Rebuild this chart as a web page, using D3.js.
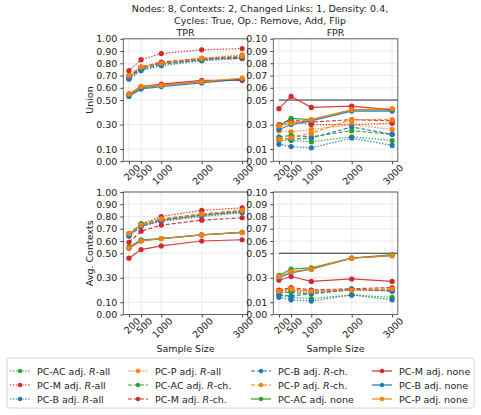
<!DOCTYPE html>
<html><head><meta charset="utf-8">
<script src="https://cdn.jsdelivr.net/npm/d3@7"></script>
<style>body{margin:0;background:#fff;font-family:"DejaVu Sans",sans-serif;}</style>
</head><body><svg id="c" width="481" height="415"></svg>
<script>
// sample sizes on the x axis
const sampleSizes = [200, 500, 1000, 2000, 3000];

// series: method, adjustment, colour, dash
const seriesNames = ["PC-AC adj. R-all","PC-M adj. R-all","PC-B adj. R-all","PC-P adj. R-all",
  "PC-AC adj. R-ch.","PC-M adj. R-ch.","PC-B adj. R-ch.","PC-P adj. R-ch.",
  "PC-AC adj. none","PC-M adj. none","PC-B adj. none","PC-P adj. none"];
const seriesColors = ["#2ca02c","#d62728","#1f77b4","#ff7f0e","#2ca02c","#d62728","#1f77b4","#ff7f0e","#2ca02c","#d62728","#1f77b4","#ff7f0e"];
const seriesDash = ["1.5,1.5","1.5,1.5","1.5,1.5","1.5,1.5","4,2","4,2","4,2","4,2",null,null,null,null];

const unionTPR = [
  [0.68,0.76,0.80,0.83,0.85],[0.74,0.83,0.88,0.91,0.92],[0.67,0.74,0.78,0.82,0.84],[0.70,0.77,0.80,0.84,0.87],
  [0.69,0.76,0.80,0.83,0.86],[0.69,0.77,0.81,0.84,0.84],[0.68,0.75,0.79,0.83,0.85],[0.70,0.77,0.80,0.84,0.86],
  [0.54,0.60,0.62,0.65,0.67],[0.55,0.61,0.63,0.66,0.66],[0.53,0.59,0.61,0.64,0.67],[0.55,0.61,0.62,0.65,0.68]];
const unionFPR = [
  [0.017,0.017,0.016,0.020,0.017],[0.029,0.033,0.030,0.030,0.031],[0.014,0.012,0.011,0.019,0.013],[0.025,0.024,0.026,0.030,0.026],
  [0.020,0.021,0.020,0.025,0.022],[0.030,0.034,0.032,0.034,0.033],[0.019,0.018,0.019,0.028,0.022],[0.018,0.019,0.023,0.034,0.034],
  [0.029,0.035,0.034,0.042,0.042],[0.043,0.053,0.044,0.045,0.042],[0.026,0.030,0.033,0.041,0.041],[0.029,0.031,0.034,0.042,0.043]];
const ctxTPR = [
  [0.65,0.73,0.77,0.81,0.84],[0.65,0.74,0.80,0.85,0.87],[0.64,0.72,0.76,0.80,0.83],[0.66,0.73,0.77,0.81,0.84],
  [0.66,0.74,0.78,0.82,0.85],[0.59,0.68,0.73,0.77,0.79],[0.64,0.72,0.77,0.81,0.84],[0.66,0.73,0.78,0.82,0.85],
  [0.55,0.61,0.62,0.65,0.67],[0.46,0.53,0.56,0.60,0.61],[0.54,0.60,0.62,0.65,0.67],[0.54,0.60,0.62,0.65,0.67]];
const ctxFPR = [
  [0.016,0.014,0.013,0.016,0.014],[0.019,0.020,0.019,0.020,0.020],[0.014,0.012,0.011,0.016,0.012],[0.018,0.019,0.018,0.020,0.019],
  [0.018,0.018,0.017,0.020,0.020],[0.020,0.022,0.020,0.021,0.022],[0.016,0.015,0.017,0.021,0.019],[0.019,0.021,0.019,0.020,0.021],
  [0.032,0.037,0.038,0.046,0.049],[0.028,0.031,0.027,0.029,0.027],[0.030,0.034,0.037,0.046,0.048],[0.031,0.035,0.037,0.046,0.048]];

const tprTicks = [0,0.1,0.3,0.5,0.6,0.7,0.8,0.9,1.0];
const fprTicks = [0,0.01,0.03,0.05,0.06,0.07,0.08,0.09,0.10];

const svg = d3.select("#c");
const fs = 9.5;

svg.append("text").attr("x", 260).attr("y", 12).attr("text-anchor","middle").attr("font-size",fs)
  .attr("fill","#222").text("Nodes: 8, Contexts: 2, Changed Links: 1, Density: 0.4,");
svg.append("text").attr("x", 260).attr("y", 24).attr("text-anchor","middle").attr("font-size",fs)
  .attr("fill","#222").text("Cycles: True, Op.: Remove, Add, Flip");

function panel(left, top, data, yMax, ticks, title, ylabel, xlabel, refLine) {
  const w = 124.5, h = 122.5;
  const x = d3.scaleLinear().domain([60, 3140]).range([left, left + w]);
  const y = d3.scaleLinear().domain([0, yMax]).range([top + h, top]);
  const g = svg.append("g");
  // grid
  g.selectAll(".gx").data(sampleSizes).enter().append("line")
    .attr("x1", d => x(d)).attr("x2", d => x(d)).attr("y1", top).attr("y2", top + h)
    .attr("stroke","#e4e4e4").attr("stroke-width",0.8);
  g.selectAll(".gy").data(ticks).enter().append("line")
    .attr("y1", d => y(d)).attr("y2", d => y(d)).attr("x1", left).attr("x2", left + w)
    .attr("stroke","#e4e4e4").attr("stroke-width",0.8);
  if (refLine) {
    g.append("line").attr("x1", x(200)).attr("x2", x(3140)).attr("y1", y(0.05)).attr("y2", y(0.05))
      .attr("stroke","#333").attr("stroke-width",1);
  }
  const line = d3.line().x((d, i) => x(sampleSizes[i])).y(d => y(d));
  data.forEach((s, k) => {
    g.append("path").attr("d", line(s)).attr("fill","none").attr("stroke", seriesColors[k])
      .attr("stroke-width", 1.2).attr("stroke-dasharray", seriesDash[k]).attr("opacity", 0.9);
    g.selectAll(null).data(s).enter().append("circle")
      .attr("cx", (d, i) => x(sampleSizes[i])).attr("cy", d => y(d)).attr("r", 2.6)
      .attr("fill", seriesColors[k]);
  });
  // frame
  g.append("rect").attr("x", left).attr("y", top).attr("width", w).attr("height", h)
    .attr("fill","none").attr("stroke","#555").attr("stroke-width",0.9);
  const ya = g.append("g").attr("transform", `translate(${left},0)`)
    .call(d3.axisLeft(y).tickValues(ticks).tickFormat(d3.format(".2f")).tickSize(3));
  ya.select(".domain").remove();
  ya.selectAll("text").attr("font-size", fs).attr("fill","#222").attr("font-family","DejaVu Sans");
  ya.selectAll("line").attr("stroke","#444");
  const xa = g.append("g").attr("transform", `translate(0,${top + h})`)
    .call(d3.axisBottom(x).tickValues(sampleSizes).tickFormat(d3.format("d")).tickSize(3));
  xa.select(".domain").remove();
  xa.selectAll("line").attr("stroke","#444");
  xa.selectAll("text").attr("font-size", fs).attr("fill","#222").attr("font-family","DejaVu Sans")
    .attr("text-anchor","end").attr("dy","0").attr("y", 6).attr("x", 3)
    .attr("transform","rotate(-45)").attr("dominant-baseline","hanging");
  if (title) g.append("text").attr("x", left + w / 2).attr("y", top - 3).attr("text-anchor","middle")
    .attr("font-size", fs).attr("fill","#222").text(title);
  if (ylabel) g.append("text").attr("transform", `translate(${left - 30},${top + h / 2}) rotate(-90)`)
    .attr("text-anchor","middle").attr("font-size", fs).attr("fill","#222").text(ylabel);
  if (xlabel) g.append("text").attr("x", left + w / 2).attr("y", top + h + 37).attr("text-anchor","middle")
    .attr("font-size", fs).attr("fill","#222").text(xlabel);
}

panel(123.3, 38.8, unionTPR, 1.0, tprTicks, "TPR", "Union", null, false);
panel(273.3, 38.8, unionFPR, 0.1, fprTicks, "FPR", null, null, true);
panel(123.3, 192, ctxTPR, 1.0, tprTicks, null, "Avg. Contexts", "Sample Size", false);
panel(273.3, 192, ctxFPR, 0.1, fprTicks, null, null, "Sample Size", true);

// legend
const leg = svg.append("g");
leg.append("rect").attr("x", 7).attr("y", 358).attr("width", 467).attr("height", 50).attr("rx", 2)
  .attr("fill","#fff").attr("stroke","#ccc").attr("stroke-width",0.8);
const colX = [10, 128, 251, 372];
seriesNames.forEach((name, k) => {
  const col = Math.floor(k / 3), row = k % 3;
  const lx = colX[col], ly = 371 + row * 14;
  leg.append("line").attr("x1", lx).attr("x2", lx + 20).attr("y1", ly).attr("y2", ly)
    .attr("stroke", seriesColors[k]).attr("stroke-width", 1.2).attr("stroke-dasharray", seriesDash[k]);
  leg.append("circle").attr("cx", lx + 10).attr("cy", ly).attr("r", 2.2).attr("fill", seriesColors[k]);
  const parts = name.split(" R-");
  const t = leg.append("text").attr("x", lx + 27).attr("y", ly + 3.5).attr("font-size", fs).attr("fill","#222");
  if (parts.length > 1) {
    t.append("tspan").text(parts[0] + " ");
    t.append("tspan").attr("font-style","italic").text("R");
    t.append("tspan").text("-" + parts[1]);
  } else t.text(name);
});
</script></body></html>
